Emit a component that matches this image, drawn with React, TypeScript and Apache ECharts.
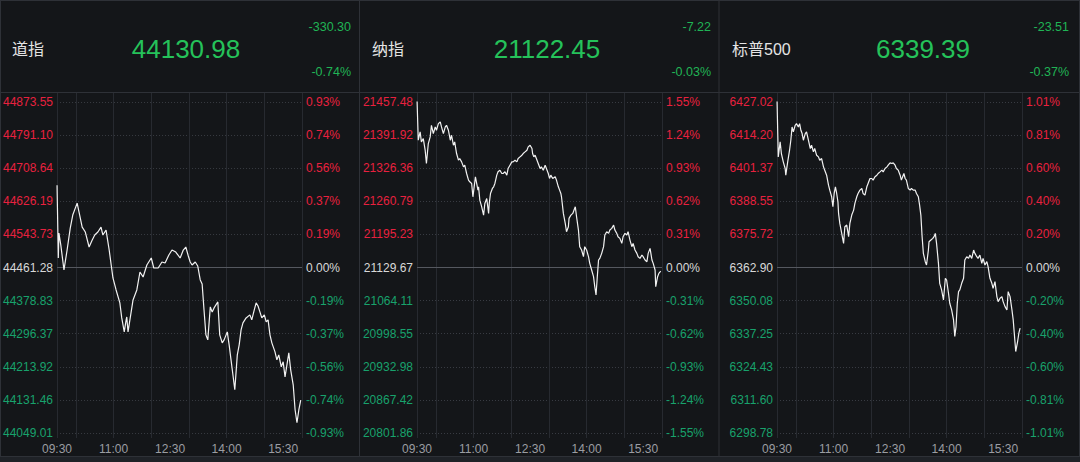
import React, { useEffect, useRef } from "react";
import * as echarts from "echarts";

// ---------- data ----------
const timeLabels = ["09:30","10:00","10:30","11:00","11:30","12:00","12:30","13:00","13:30","14:00","14:30","15:00","15:30","16:00"];

const names = ["道指", "纳指", "标普500"];
const lastPrices = ["44130.98", "21122.45", "6339.39"];
const changeValues = ["-330.30", "-7.22", "-23.51"];
const changePercents = ["-0.74%", "-0.03%", "-0.37%"];

const djiPriceLabels = ["44873.55","44791.10","44708.64","44626.19","44543.73","44461.28","44378.83","44296.37","44213.92","44131.46","44049.01"];
const djiPctLabels = ["0.93%","0.74%","0.56%","0.37%","0.19%","0.00%","-0.19%","-0.37%","-0.56%","-0.74%","-0.93%"];
const ixicPriceLabels = ["21457.48","21391.92","21326.36","21260.79","21195.23","21129.67","21064.11","20998.55","20932.98","20867.42","20801.86"];
const ixicPctLabels = ["1.55%","1.24%","0.93%","0.62%","0.31%","0.00%","-0.31%","-0.62%","-0.93%","-1.24%","-1.55%"];
const spxPriceLabels = ["6427.02","6414.20","6401.37","6388.55","6375.72","6362.90","6350.08","6337.25","6324.43","6311.60","6298.78"];
const spxPctLabels = ["1.01%","0.81%","0.60%","0.40%","0.20%","0.00%","-0.20%","-0.40%","-0.60%","-0.81%","-1.01%"];

// [minutes since 09:30, price]
const djiData = [
  [0,44666.4],[2,44484.9],[3,44547.1],[6,44517],[11,44455],[16,44504.8],[21,44559.5],[25,44591.9],[32,44621.7],[35,44599.3],
  [40,44562],[45,44549.6],[51,44512.3],[56,44529.7],[60,44542.1],[65,44549.6],[70,44562],[73,44542.1],[78,44554.6],[83,44504.8],
  [89,44435.2],[94,44405.3],[100,44373],[103,44335.7],[107,44300.9],[110,44330.8],[111,44338],[113,44300.9],[118,44350.6],[121,44380.5],
  [127,44405.3],[132,44450.1],[137,44437.7],[143,44467.5],[150,44484.9],[154,44460],[161,44460],[167,44475],[172,44472.5],[178,44492.4],
  [183,44504.8],[189,44499.8],[196,44484.9],[201,44504.8],[205,44512.3],[209,44489.9],[212,44475],[215,44467.5],[220,44475],[224,44465],
  [228,44430.2],[231,44420.3],[234,44355.6],[237,44293.5],[240,44281],[244,44363.1],[247,44350.6],[250,44360.6],[256,44375.5],[259,44293.5],
  [263,44273.6],[266,44281],[271,44300.9],[274,44268.6],[277,44231.3],[280,44194],[283,44156.7],[287,44243.7],[290,44268.6],[293,44305.9],
  [296,44323.3],[301,44335.7],[307,44343.2],[310,44330.8],[314,44355.6],[317,44373],[320,44365.5],[323,44350.6],[326,44335.7],[330,44343.2],
  [333,44325.8],[336,44330.8],[339,44293.5],[342,44273.6],[347,44251.2],[350,44231.3],[353,44243.7],[357,44213.9],[360,44226.3],[363,44189],
  [366,44218.8],[369,44248.7],[372,44206.4],[376,44169.1],[379,44107],[382,44074.6],[385,44107],[388,44130.98]
];

const ixicData = [
  [0,21464.1],[2,21381.75],[5,21398.2],[7,21378.5],[10,21385.0],[13,21362.0],[15,21335.6],[18,21375.2],[21,21388.3],[23,21411.4],
  [26,21394.9],[29,21408.1],[31,21401.5],[34,21414.7],[37,21418.0],[39,21408.1],[42,21394.9],[45,21408.1],[47,21411.4],[50,21401.5],
  [53,21381.75],[55,21391.6],[58,21371.9],[60,21378.5],[63,21355.4],[66,21342.2],[68,21345.5],[71,21338.9],[74,21329.0],[76,21332.3],
  [79,21315.85],[82,21302.7],[84,21299.4],[87,21296.1],[89,21269.7],[91,21289.5],[93,21309.3],[95,21296.1],[97,21282.9],[98,21289.5],
  [100,21263.1],[103,21249.9],[106,21233.5],[108,21256.5],[111,21266.4],[114,21236.8],[115,21256.5],[117,21276.3],[120,21286.2],[122,21289.5],
  [124,21296.1],[127,21312.6],[129,21319.2],[132,21322.4],[135,21315.85],[137,21315.85],[140,21319.2],[143,21312.6],[145,21325.7],[148,21332.3],
  [151,21338.9],[153,21338.9],[156,21342.2],[159,21338.9],[161,21345.5],[164,21348.8],[167,21352.1],[169,21355.4],[172,21358.7],[175,21362.0],
  [177,21368.6],[180,21371.9],[183,21365.3],[184,21355.4],[186,21348.8],[188,21352.1],[190,21345.5],[193,21335.6],[196,21325.7],[198,21329.0],
  [201,21322.4],[204,21332.3],[206,21325.7],[209,21315.85],[211,21306.0],[213,21312.6],[216,21306.0],[220,21309.3],[222,21302.7],[225,21289.5],
  [227,21282.9],[229,21276.3],[230,21269.7],[233,21236.8],[236,21217.0],[238,21200.5],[241,21210.4],[242,21226.9],[245,21233.5],[248,21236.8],
  [250,21243.4],[252,21249.9],[254,21230.2],[257,21203.8],[259,21170.9],[262,21164.3],[265,21151.1],[267,21170.9],[270,21164.3],[273,21151.1],
  [275,21137.9],[278,21124.7],[281,21111.5],[283,21091.8],[285,21075.3],[287,21111.5],[289,21144.5],[291,21147.8],[294,21157.7],[297,21170.9],
  [299,21193.9],[302,21200.5],[305,21197.2],[307,21203.8],[310,21207.1],[313,21213.7],[315,21203.8],[318,21197.2],[320,21190.6],[323,21187.3],
  [326,21177.5],[328,21190.6],[331,21197.2],[334,21193.9],[336,21200.5],[339,21184.0],[342,21170.9],[344,21177.5],[347,21164.3],[350,21157.7],
  [352,21151.1],[355,21147.8],[358,21154.4],[360,21151.1],[363,21144.5],[366,21141.2],[368,21157.7],[371,21167.6],[374,21144.5],[376,21137.9],
  [379,21124.7],[380,21091.8],[383,21111.5],[385,21118.1],[388,21122.45]
];

const spxData = [
  [0,6428.32],[2,6405.76],[5,6411.56],[7,6407.05],[10,6403.83],[13,6401.25],[14,6398.67],[17,6403.83],[20,6408.34],[22,6412.21],
  [24,6417.36],[26,6415.43],[29,6418.01],[31,6418.65],[34,6417.36],[36,6418.65],[38,6416.07],[40,6414.79],[42,6412.21],[45,6414.79],
  [47,6415.43],[50,6412.21],[53,6408.99],[55,6410.27],[58,6407.70],[60,6408.99],[63,6406.41],[66,6405.76],[68,6404.47],[71,6405.12],
  [74,6401.90],[76,6400.61],[79,6398.67],[82,6394.81],[84,6392.87],[87,6390.30],[89,6386.43],[91,6391.58],[93,6394.16],[95,6391.58],
  [97,6388.36],[98,6383.85],[100,6379.98],[103,6376.11],[106,6372.25],[108,6378.69],[111,6379.34],[114,6374.83],[116,6379.98],[119,6383.21],
  [122,6385.14],[124,6387.72],[127,6390.30],[129,6391.58],[132,6392.87],[135,6393.52],[137,6391.58],[140,6390.94],[143,6394.16],[145,6395.45],
  [148,6397.38],[151,6397.38],[153,6396.74],[156,6398.03],[159,6398.67],[161,6399.32],[164,6399.96],[167,6400.61],[169,6399.96],[172,6401.25],
  [175,6401.90],[177,6402.54],[180,6403.44],[183,6403.19],[185,6403.44],[188,6402.54],[190,6401.25],[193,6400.61],[196,6398.67],[198,6396.74],
  [200,6398.03],[202,6399.32],[204,6397.38],[206,6396.74],[209,6393.52],[212,6392.87],[214,6393.52],[217,6392.87],[220,6392.87],[222,6391.58],
  [225,6390.30],[227,6387.07],[229,6383.21],[231,6374.83],[233,6368.38],[236,6365.16],[238,6363.87],[241,6369.67],[242,6372.89],[245,6373.54],
  [248,6374.18],[250,6374.83],[252,6376.11],[254,6372.25],[257,6364.51],[259,6356.78],[262,6354.20],[265,6350.33],[268,6358.71],[270,6358.06],
  [273,6352.91],[275,6349.04],[278,6346.46],[281,6342.59],[283,6336.15],[285,6340.01],[287,6349.04],[289,6353.55],[291,6354.20],[294,6356.78],
  [297,6358.71],[299,6365.80],[302,6367.09],[305,6366.45],[307,6367.74],[310,6366.45],[313,6369.67],[315,6368.38],[318,6367.09],[320,6366.45],
  [323,6367.74],[326,6364.51],[328,6366.45],[331,6363.87],[334,6365.16],[336,6363.22],[339,6358.71],[342,6356.78],[344,6354.84],[347,6357.42],
  [350,6351.62],[352,6349.69],[355,6350.97],[358,6351.62],[360,6349.69],[363,6347.75],[366,6346.46],[368,6353.55],[371,6351.62],[374,6346.46],
  [376,6342.59],[379,6333.57],[380,6330.35],[383,6334.22],[385,6337.44],[387,6339.39]
];

const panelData = [djiData, ixicData, spxData];
const panelPriceLabels = [djiPriceLabels, ixicPriceLabels, spxPriceLabels];
const panelPctLabels = [djiPctLabels, ixicPctLabels, spxPctLabels];

// ---------- layout / style ----------
const W = 1080;
const H = 462;
const PANEL_STEP = 360;
const PLOT_LEFT = 57;
const PLOT_W = 245;
const bigPriceX = [186, 547, 923];
const changeRightX = [351, 711, 1069];

const FONT = '"Liberation Sans", Arial, "Noto Sans CJK SC", sans-serif';
const RED = "#e8213f";
const GREEN_AXIS = "#18a26c";
const GREEN_HEAD = "#25c25a";
const BG = "#141619";
const BORDER = "#2e3137";

function buildOption() {
  const grid: any[] = [];
  const xAxis: any[] = [];
  const yAxis: any[] = [];
  const series: any[] = [];
  const graphic: any[] = [];

  graphic.push({ type: "rect", shape: { x: 0, y: 457, width: W, height: 5 }, style: { fill: "#1f2227" }, silent: true });
  // borders
  const hLines = [0.5, 92.5, 456.5];
  hLines.forEach((y) =>
    graphic.push({ type: "line", shape: { x1: 0, y1: y, x2: W, y2: y }, style: { stroke: BORDER, lineWidth: 1 }, silent: true })
  );
  const vLines = [0.5, 359.5, 719, 1079.5];
  vLines.forEach((x) =>
    graphic.push({ type: "line", shape: { x1: x, y1: 0, x2: x, y2: 457 }, style: { stroke: BORDER, lineWidth: 1 }, silent: true })
  );

  for (let i = 0; i < 3; i++) {
    const off = PANEL_STEP * i;
    const priceLabels = panelPriceLabels[i];
    const pctLabels = panelPctLabels[i];
    const base = parseFloat(priceLabels[5]);
    const step = (parseFloat(priceLabels[0]) - parseFloat(priceLabels[10])) / 10;

    grid.push({ left: PLOT_LEFT + off, top: 102, width: PLOT_W, height: 331 });
    grid.push({ left: PLOT_LEFT + off, top: 93, width: PLOT_W, height: 345 });

    xAxis.push({ type: "value", gridIndex: 2 * i, min: 0, max: 390, show: false });
    xAxis.push({
      type: "category",
      gridIndex: 2 * i + 1,
      data: timeLabels,
      boundaryGap: false,
      axisLine: { show: false },
      axisTick: { show: false },
      axisLabel: {
        interval: (idx: number) => idx % 3 === 0,
        color: "#9b9da2",
        fontSize: 12,
        fontFamily: FONT,
        margin: 5,
      },
      splitLine: {
        show: true,
        interval: (idx: number) => idx === 0 || idx % 2 === 1,
        lineStyle: { color: "#272a30", width: 1 },
      },
    });

    const colorFn = (v: any) => {
      const n = Math.round(Number(v));
      return n > 0 ? RED : n < 0 ? GREEN_AXIS : "#d8d8d8";
    };

    yAxis.push({
      type: "value",
      gridIndex: 2 * i,
      position: "left",
      min: -5,
      max: 5,
      interval: 1,
      axisLine: { show: false },
      axisTick: { show: false },
      axisLabel: {
        formatter: (v: number) => priceLabels[5 - Math.round(v)] ?? "",
        color: colorFn,
        fontSize: 12,
        fontFamily: FONT,
        margin: 4,
      },
      splitLine: { show: true, lineStyle: { color: "#383b42", type: [1, 2], width: 1 } },
    });
    yAxis.push({
      type: "value",
      gridIndex: 2 * i,
      position: "right",
      min: -5,
      max: 5,
      interval: 1,
      axisLine: { show: false },
      axisTick: { show: false },
      axisLabel: {
        formatter: (v: number) => pctLabels[5 - Math.round(v)] ?? "",
        color: colorFn,
        fontSize: 12,
        fontFamily: FONT,
        margin: 4,
      },
      splitLine: { show: false },
    });
    yAxis.push({ type: "value", gridIndex: 2 * i + 1, min: 0, max: 1, show: false });

    series.push({
      type: "line",
      xAxisIndex: 2 * i,
      yAxisIndex: 3 * i,
      data: panelData[i].map(([t, p]) => [t, (p - base) / step]),
      showSymbol: false,
      symbol: "none",
      lineStyle: { color: "#f2f2f2", width: 1.2 },
      z: 5,
      markLine: {
        silent: true,
        symbol: ["none", "none"],
        label: { show: false },
        lineStyle: { color: "#55585f", type: "solid", width: 1 },
        data: [{ yAxis: 0 }],
        z: 3,
      },
    });

    // header texts
    graphic.push({
      type: "text",
      x: 12 + off,
      y: 49,
      silent: true,
      style: { text: names[i], fill: "#e4e4e4", font: `16px ${FONT}`, textAlign: "left", textVerticalAlign: "middle" },
    });
    graphic.push({
      type: "text",
      x: bigPriceX[i],
      y: 49,
      silent: true,
      style: { text: lastPrices[i], fill: GREEN_HEAD, font: `26px ${FONT}`, textAlign: "center", textVerticalAlign: "middle" },
    });
    graphic.push({
      type: "text",
      x: changeRightX[i],
      y: 27,
      silent: true,
      style: { text: changeValues[i], fill: "#20b455", font: `12.5px ${FONT}`, textAlign: "right", textVerticalAlign: "middle" },
    });
    graphic.push({
      type: "text",
      x: changeRightX[i],
      y: 72,
      silent: true,
      style: { text: changePercents[i], fill: "#20b455", font: `12.5px ${FONT}`, textAlign: "right", textVerticalAlign: "middle" },
    });
  }

  return {
    animation: false,
    backgroundColor: BG,
    grid,
    xAxis,
    yAxis,
    series,
    graphic,
  };
}

export default function App() {
  const ref = useRef<HTMLDivElement>(null);
  useEffect(() => {
    document.body.style.margin = "0";
    document.body.style.background = BG;
    if (!ref.current) return;
    const chart = echarts.init(ref.current, undefined, { renderer: "svg", width: W, height: H });
    chart.setOption(buildOption());
    return () => chart.dispose();
  }, []);
  return <div ref={ref} style={{ position: "fixed", left: 0, top: 0, width: W, height: H }} />;
}
